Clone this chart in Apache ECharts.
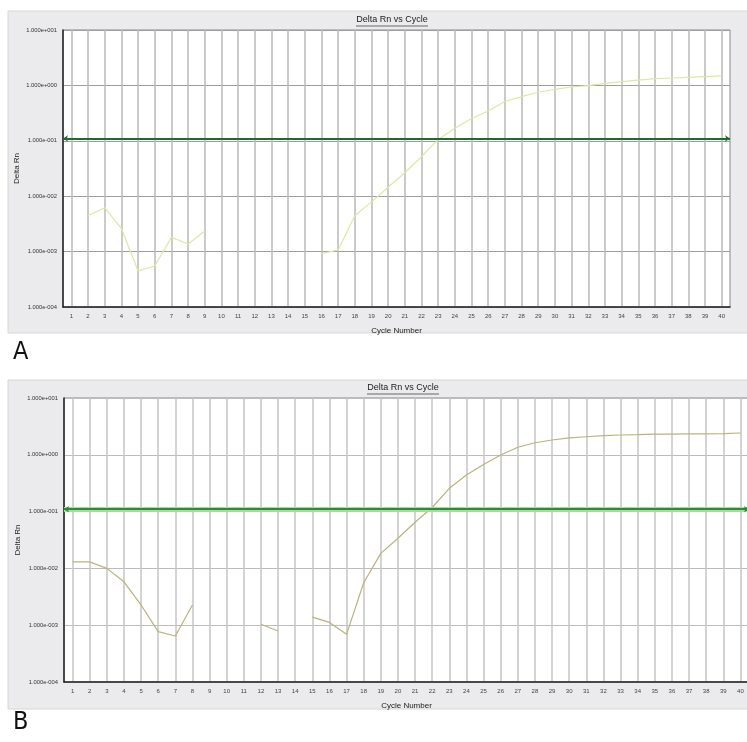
<!DOCTYPE html>
<html><head><meta charset="utf-8">
<script src="https://cdn.jsdelivr.net/npm/echarts@6/dist/echarts.min.js"></script>
<style>html,body{margin:0;padding:0;background:#fff}#c{width:747px;height:742px}</style>
</head><body><div id="c"></div>
<script>
// ---- data ----
const cycles = Array.from({length: 40}, (_, i) => String(i + 1));
const yTicks = [1e-4, 1e-3, 1e-2, 1e-1, 1, 10];
const deltaRnA = [null, 0.00445, 0.0062, 0.00263, 0.00045, 0.00055, 0.00181, 0.00137, 0.00236, null,
  null, null, null, null, null, 0.00092, 0.00107, 0.00445, 0.0079, 0.0145,
  0.0265, 0.0516, 0.106, 0.168, 0.253, 0.344, 0.512, 0.628, 0.753, 0.851,
  0.935, 0.99, 1.09, 1.17, 1.25, 1.32, 1.36, 1.40, 1.44, 1.48];
const deltaRnB = [0.013, 0.013, 0.010, 0.0058, 0.00227, 0.00077, 0.000645, 0.00227, null, null,
  null, 0.00104, 0.00079, null, 0.00139, 0.00112, 0.00069, 0.0056, 0.0184, 0.0339,
  0.065, 0.118, 0.257, 0.44, 0.675, 0.99, 1.36, 1.63, 1.82, 1.98,
  2.08, 2.17, 2.23, 2.26, 2.32, 2.32, 2.33, 2.34, 2.35, 2.42];
const thresholdA = 0.107;
const thresholdB = 0.110;
const chartTitle = 'Delta Rn vs Cycle';
const xName = 'Cycle Number';
const yName = 'Delta Rn';
const panelLabels = ['A', 'B'];

function fmtSci(v) {
  const e = Math.round(Math.log10(v));
  return '1.000e' + (e < 0 ? '-' : '+') + String(Math.abs(e)).padStart(3, '0');
}

const font = 'Liberation Sans, Arial, sans-serif';
const panels = [
  {left: 63, top: 30, width: 667, height: 277, box: [8, 11, 760, 322], titleX: 392, titleY: 20,
   data: deltaRnA, color: '#dfe7a2', thr: thresholdA, thrColor: '#1f6b2e', halo: null, labelY: 340,
   vGrid: '#b9b9b9', hGrid: '#9e9e9e'},
  {left: 64, top: 398, width: 685, height: 284, box: [8, 380, 760, 329], titleX: 403, titleY: 388,
   data: deltaRnB, color: '#b9b47c', thr: thresholdB, thrColor: '#2e8a3a', halo: '#a6dd9e', labelY: 710,
   vGrid: '#c4c4c4', hGrid: '#bcbcbc'}
];

const grids = [], xAxes = [], yAxes = [], series = [], graphics = [];
panels.forEach((p, i) => {
  graphics.push({type: 'rect', z: -10, shape: {x: p.box[0], y: p.box[1], width: p.box[2], height: p.box[3]},
    style: {fill: '#ebebed', stroke: '#d6d6d6', lineWidth: 1}});
  graphics.push({type: 'rect', z: -9, shape: {x: p.left, y: p.top, width: p.width, height: p.height},
    style: {fill: '#ffffff'}});
  graphics.push({type: 'text', x: p.titleX, y: p.titleY, style: {text: chartTitle, font: '9px ' + font,
    fill: '#222', textAlign: 'center', textVerticalAlign: 'middle'}});
  graphics.push({type: 'line', shape: {x1: p.titleX - 36, y1: p.titleY + 6, x2: p.titleX + 36, y2: p.titleY + 6},
    style: {stroke: '#444', lineWidth: 0.8}});
  graphics.push({type: 'text', x: 13, y: p.labelY, style: {text: panelLabels[i],
    font: '25px "Liberation Sans Narrow", "DejaVu Sans Condensed", sans-serif', fill: '#111'}});
  grids.push({left: p.left, top: p.top, width: p.width, height: p.height, show: true,
    containLabel: false, outerBoundsMode: 'none',
    borderColor: '#8a8a8a', borderWidth: 1, backgroundColor: 'transparent'});
  xAxes.push({type: 'category', gridIndex: i, data: cycles, boundaryGap: true,
    axisLine: {show: true, lineStyle: {color: '#222', width: 1.5}},
    axisTick: {show: false, alignWithLabel: true},
    axisLabel: {fontSize: 6, color: '#444', margin: 6, interval: 0, fontFamily: font},
    splitLine: {show: true, alignWithLabel: true, interval: 0, lineStyle: {color: p.vGrid, width: 1.5}},
    name: xName, nameLocation: 'middle', nameGap: 20, nameMoveOverlap: false,
    nameTextStyle: {fontSize: 8, color: '#222', fontFamily: font}});
  yAxes.push({type: 'log', gridIndex: i, logBase: 10, min: yTicks[0], max: yTicks[yTicks.length - 1],
    axisLine: {show: true, lineStyle: {color: '#222', width: 1.5}},
    axisTick: {show: false},
    axisLabel: {fontSize: 5.8, color: '#333', margin: 6, formatter: fmtSci, fontFamily: font},
    splitLine: {show: true, lineStyle: {color: p.hGrid, width: 1}},
    name: yName, nameLocation: 'middle', nameGap: 42, nameRotate: 90, nameMoveOverlap: false,
    nameTextStyle: {fontSize: 8, color: '#222', fontFamily: font}});
  if (p.halo) {
    series.push({type: 'line', xAxisIndex: i, yAxisIndex: i, data: [], silent: true,
      markLine: {silent: true, symbol: ['none', 'none'], label: {show: false},
        lineStyle: {color: p.halo, width: 5, type: 'solid'}, data: [{yAxis: p.thr}]}});
  }
  series.push({type: 'line', xAxisIndex: i, yAxisIndex: i, data: p.data, showSymbol: false,
    connectNulls: false, lineStyle: {color: p.color, width: 1.2}, itemStyle: {color: p.color}, z: 3,
    markLine: {silent: true, symbol: ['arrow', 'arrow'], symbolSize: 5, label: {show: false},
      lineStyle: {color: p.thrColor, width: 2, type: 'solid'}, data: [{yAxis: p.thr}]}});
});

const chart = echarts.init(document.getElementById('c'), null, {renderer: 'canvas'});
chart.setOption({
  animation: false,
  backgroundColor: '#ffffff',
  grid: grids, xAxis: xAxes, yAxis: yAxes, series: series,
  graphic: graphics
});
</script></body></html>
